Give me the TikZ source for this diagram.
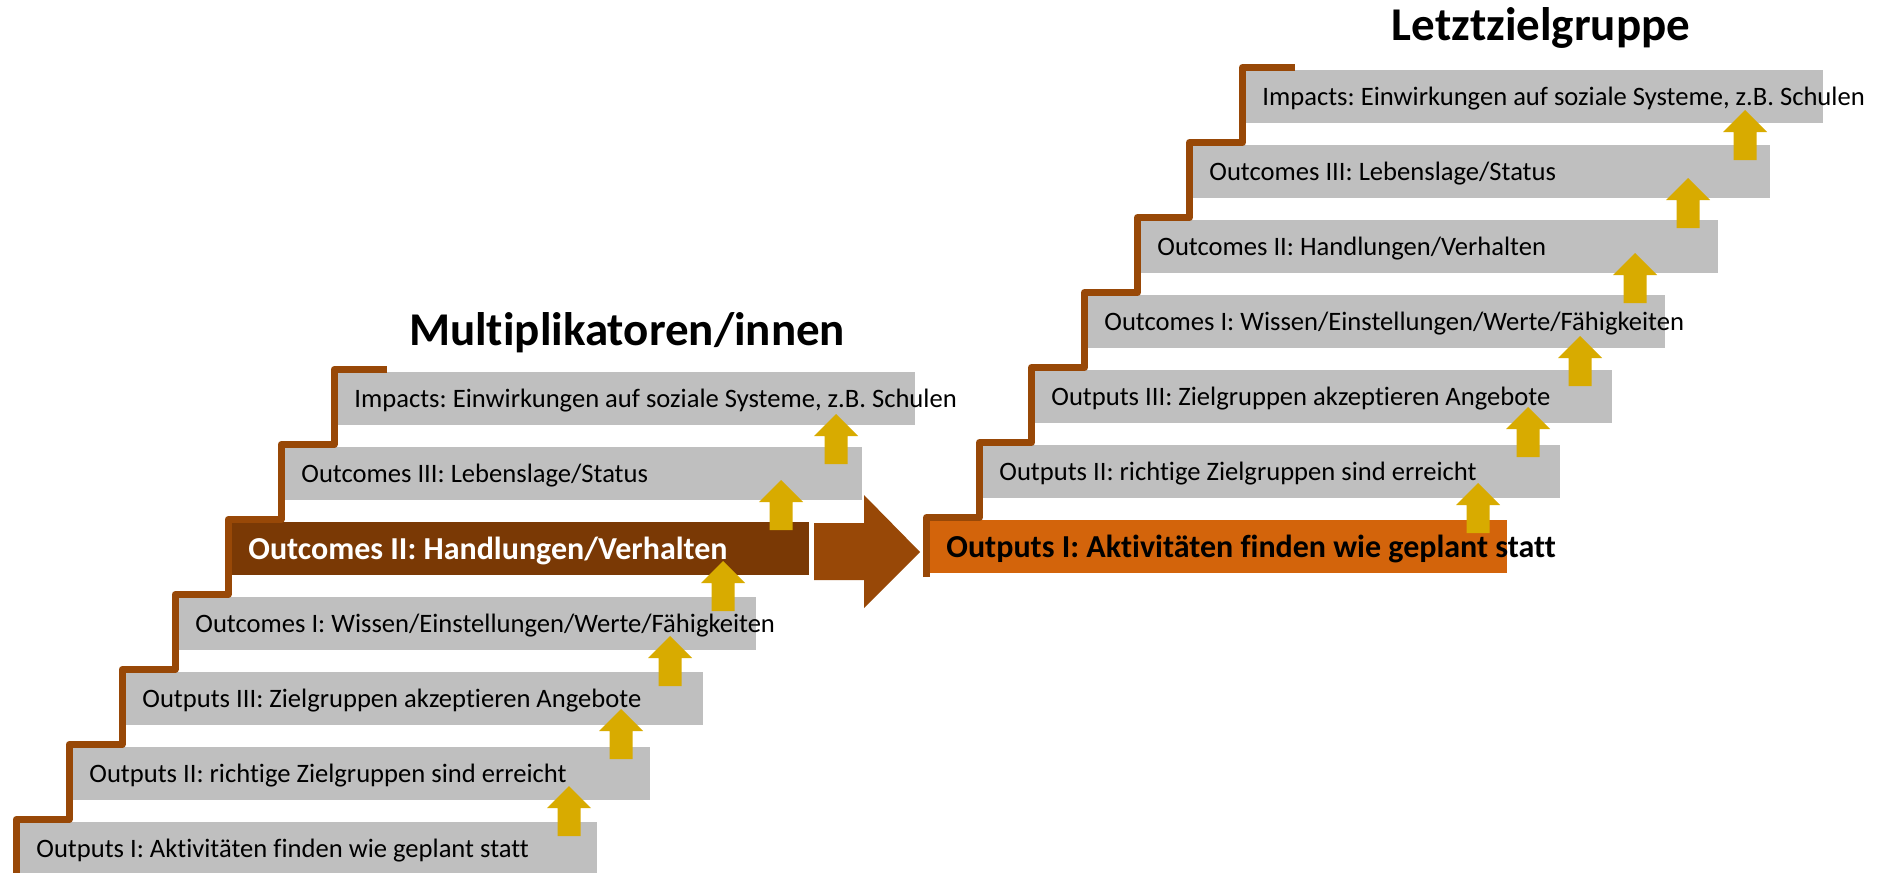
\documentclass[tikz,border=0pt]{standalone}
\usepackage{fontspec}
\setmainfont[Ligatures={NoCommon}]{Carlito}
\frenchspacing

\definecolor{stepgrey}{HTML}{BFBFBF}
\definecolor{stairbrown}{HTML}{984807}
\definecolor{darkbrown}{HTML}{7A3905}
\definecolor{steporange}{HTML}{D3640B}
\definecolor{arrowgold}{HTML}{D8AB00}

\begin{document}
\begin{tikzpicture}[x=0.5pt, y=-0.5pt,
    steptxt/.style={anchor=west, inner sep=0pt, font=\fontsize{13.3}{16}\selectfont},
    boldtxt/.style={anchor=west, inner sep=0pt, font=\fontsize{16}{19}\selectfont\bfseries},
    titletxt/.style={anchor=base, inner sep=0pt, font=\fontsize{23.5}{28}\selectfont\bfseries},
    stair/.style={draw=stairbrown, line width=3.5pt, line join=round},
    goldarrow/.style={fill=arrowgold}]
\useasboundingbox (0,0) rectangle (1883,872);

% left staircase: boxes
\fill[stepgrey] (20,822) rectangle (597,875);
\fill[stepgrey] (73,747) rectangle (650,800);
\fill[stepgrey] (126,672) rectangle (703,725);
\fill[stepgrey] (179,597) rectangle (756,650);
\fill[darkbrown] (232,522) rectangle (809,575);
\fill[stepgrey] (285,447) rectangle (862,500);
\fill[stepgrey] (338,372) rectangle (915,425);

% right staircase: boxes
\fill[steporange] (930,520) rectangle (1507,573);
\fill[stepgrey] (983,445) rectangle (1560,498);
\fill[stepgrey] (1035,370) rectangle (1612,423);
\fill[stepgrey] (1088,295) rectangle (1665,348);
\fill[stepgrey] (1141,220) rectangle (1718,273);
\fill[stepgrey] (1193,145) rectangle (1770,198);
\fill[stepgrey] (1246,70) rectangle (1823,123);

% titles
\draw (627,345) node[titletxt] (titleleft) {Multiplikatoren/innen};
\draw (1541,41) node[titletxt] (titleright) {Letztzielgruppe};

% left labels
\draw (36,851) node[steptxt] (lout1) {Outputs I: Aktivitäten finden wie geplant statt}; %label
\draw (89,776) node[steptxt] (lout2) {Outputs II: richtige Zielgruppen sind erreicht}; %label
\draw (142,701) node[steptxt] (lout3) {Outputs III: Zielgruppen akzeptieren Angebote}; %label
\draw (195,626) node[steptxt] (loutc1) {Outcomes I: Wissen/Einstellungen/Werte/Fähigkeiten}; %label
\draw (248,551) node[boldtxt, text=white] (loutc2) {Outcomes II: Handlungen/Verhalten}; %label
\draw (301,476) node[steptxt] (loutc3) {Outcomes III: Lebenslage/Status}; %label
\draw (354,401) node[steptxt] (limp) {Impacts: Einwirkungen auf soziale Systeme, z.B. Schulen}; %label

% right labels
\draw (946,549) node[boldtxt] (rout1) {Outputs I: Aktivitäten finden wie geplant statt}; %label
\draw (999,474) node[steptxt] (rout2) {Outputs II: richtige Zielgruppen sind erreicht}; %label
\draw (1051,399) node[steptxt] (rout3) {Outputs III: Zielgruppen akzeptieren Angebote}; %label
\draw (1104,324) node[steptxt] (routc1) {Outcomes I: Wissen/Einstellungen/Werte/Fähigkeiten}; %label
\draw (1157,249) node[steptxt] (routc2) {Outcomes II: Handlungen/Verhalten}; %label
\draw (1209,174) node[steptxt] (routc3) {Outcomes III: Lebenslage/Status}; %label
\draw (1262,99) node[steptxt] (rimp) {Impacts: Einwirkungen auf soziale Systeme, z.B. Schulen}; %label

% stairs
\draw[stair] (16,880) -- (16,819.5) -- (69,819.5) -- (69,744.5) -- (122,744.5) -- (122,669.5)
    -- (175,669.5) -- (175,594.5) -- (228,594.5) -- (228,519.5) -- (281,519.5) -- (281,444.5)
    -- (334,444.5) -- (334,369.5) -- (387,369.5);
\draw[stair] (926.5,577) -- (926.5,517.5) -- (979.5,517.5) -- (979.5,442.5) -- (1031.5,442.5) -- (1031.5,367.5)
    -- (1084.5,367.5) -- (1084.5,292.5) -- (1137.5,292.5) -- (1137.5,217.5) -- (1189.5,217.5) -- (1189.5,142.5)
    -- (1242.5,142.5) -- (1242.5,67.5) -- (1295,67.5);

% small arrows, left
\fill[goldarrow] (569,786) -- ++(22,22) -- ++(-10.5,0) -- ++(0,28) -- ++(-23,0) -- ++(0,-28) -- ++(-10.5,0) -- cycle;
\fill[goldarrow] (621,709) -- ++(22,22) -- ++(-10.5,0) -- ++(0,28) -- ++(-23,0) -- ++(0,-28) -- ++(-10.5,0) -- cycle;
\fill[goldarrow] (670,636) -- ++(22,22) -- ++(-10.5,0) -- ++(0,28) -- ++(-23,0) -- ++(0,-28) -- ++(-10.5,0) -- cycle;
\fill[goldarrow] (723,561) -- ++(22,22) -- ++(-10.5,0) -- ++(0,28) -- ++(-23,0) -- ++(0,-28) -- ++(-10.5,0) -- cycle;
\fill[goldarrow] (781,480) -- ++(22,22) -- ++(-10.5,0) -- ++(0,28) -- ++(-23,0) -- ++(0,-28) -- ++(-10.5,0) -- cycle;
\fill[goldarrow] (836,414) -- ++(22,22) -- ++(-10.5,0) -- ++(0,28) -- ++(-23,0) -- ++(0,-28) -- ++(-10.5,0) -- cycle;

% small arrows, right
\fill[goldarrow] (1478,483) -- ++(22,22) -- ++(-10.5,0) -- ++(0,28) -- ++(-23,0) -- ++(0,-28) -- ++(-10.5,0) -- cycle;
\fill[goldarrow] (1528,407) -- ++(22,22) -- ++(-10.5,0) -- ++(0,28) -- ++(-23,0) -- ++(0,-28) -- ++(-10.5,0) -- cycle;
\fill[goldarrow] (1580,336) -- ++(22,22) -- ++(-10.5,0) -- ++(0,28) -- ++(-23,0) -- ++(0,-28) -- ++(-10.5,0) -- cycle;
\fill[goldarrow] (1635,253) -- ++(22,22) -- ++(-10.5,0) -- ++(0,28) -- ++(-23,0) -- ++(0,-28) -- ++(-10.5,0) -- cycle;
\fill[goldarrow] (1688,178) -- ++(22,22) -- ++(-10.5,0) -- ++(0,28) -- ++(-23,0) -- ++(0,-28) -- ++(-10.5,0) -- cycle;
\fill[goldarrow] (1745,110) -- ++(22,22) -- ++(-10.5,0) -- ++(0,28) -- ++(-23,0) -- ++(0,-28) -- ++(-10.5,0) -- cycle;

% big arrow between the two stairs
\fill[stairbrown] (814,523) -- (864,523) -- (864,495) -- (920,552) -- (864,608) -- (864,580) -- (814,580) -- cycle;

\end{tikzpicture}
\end{document}
